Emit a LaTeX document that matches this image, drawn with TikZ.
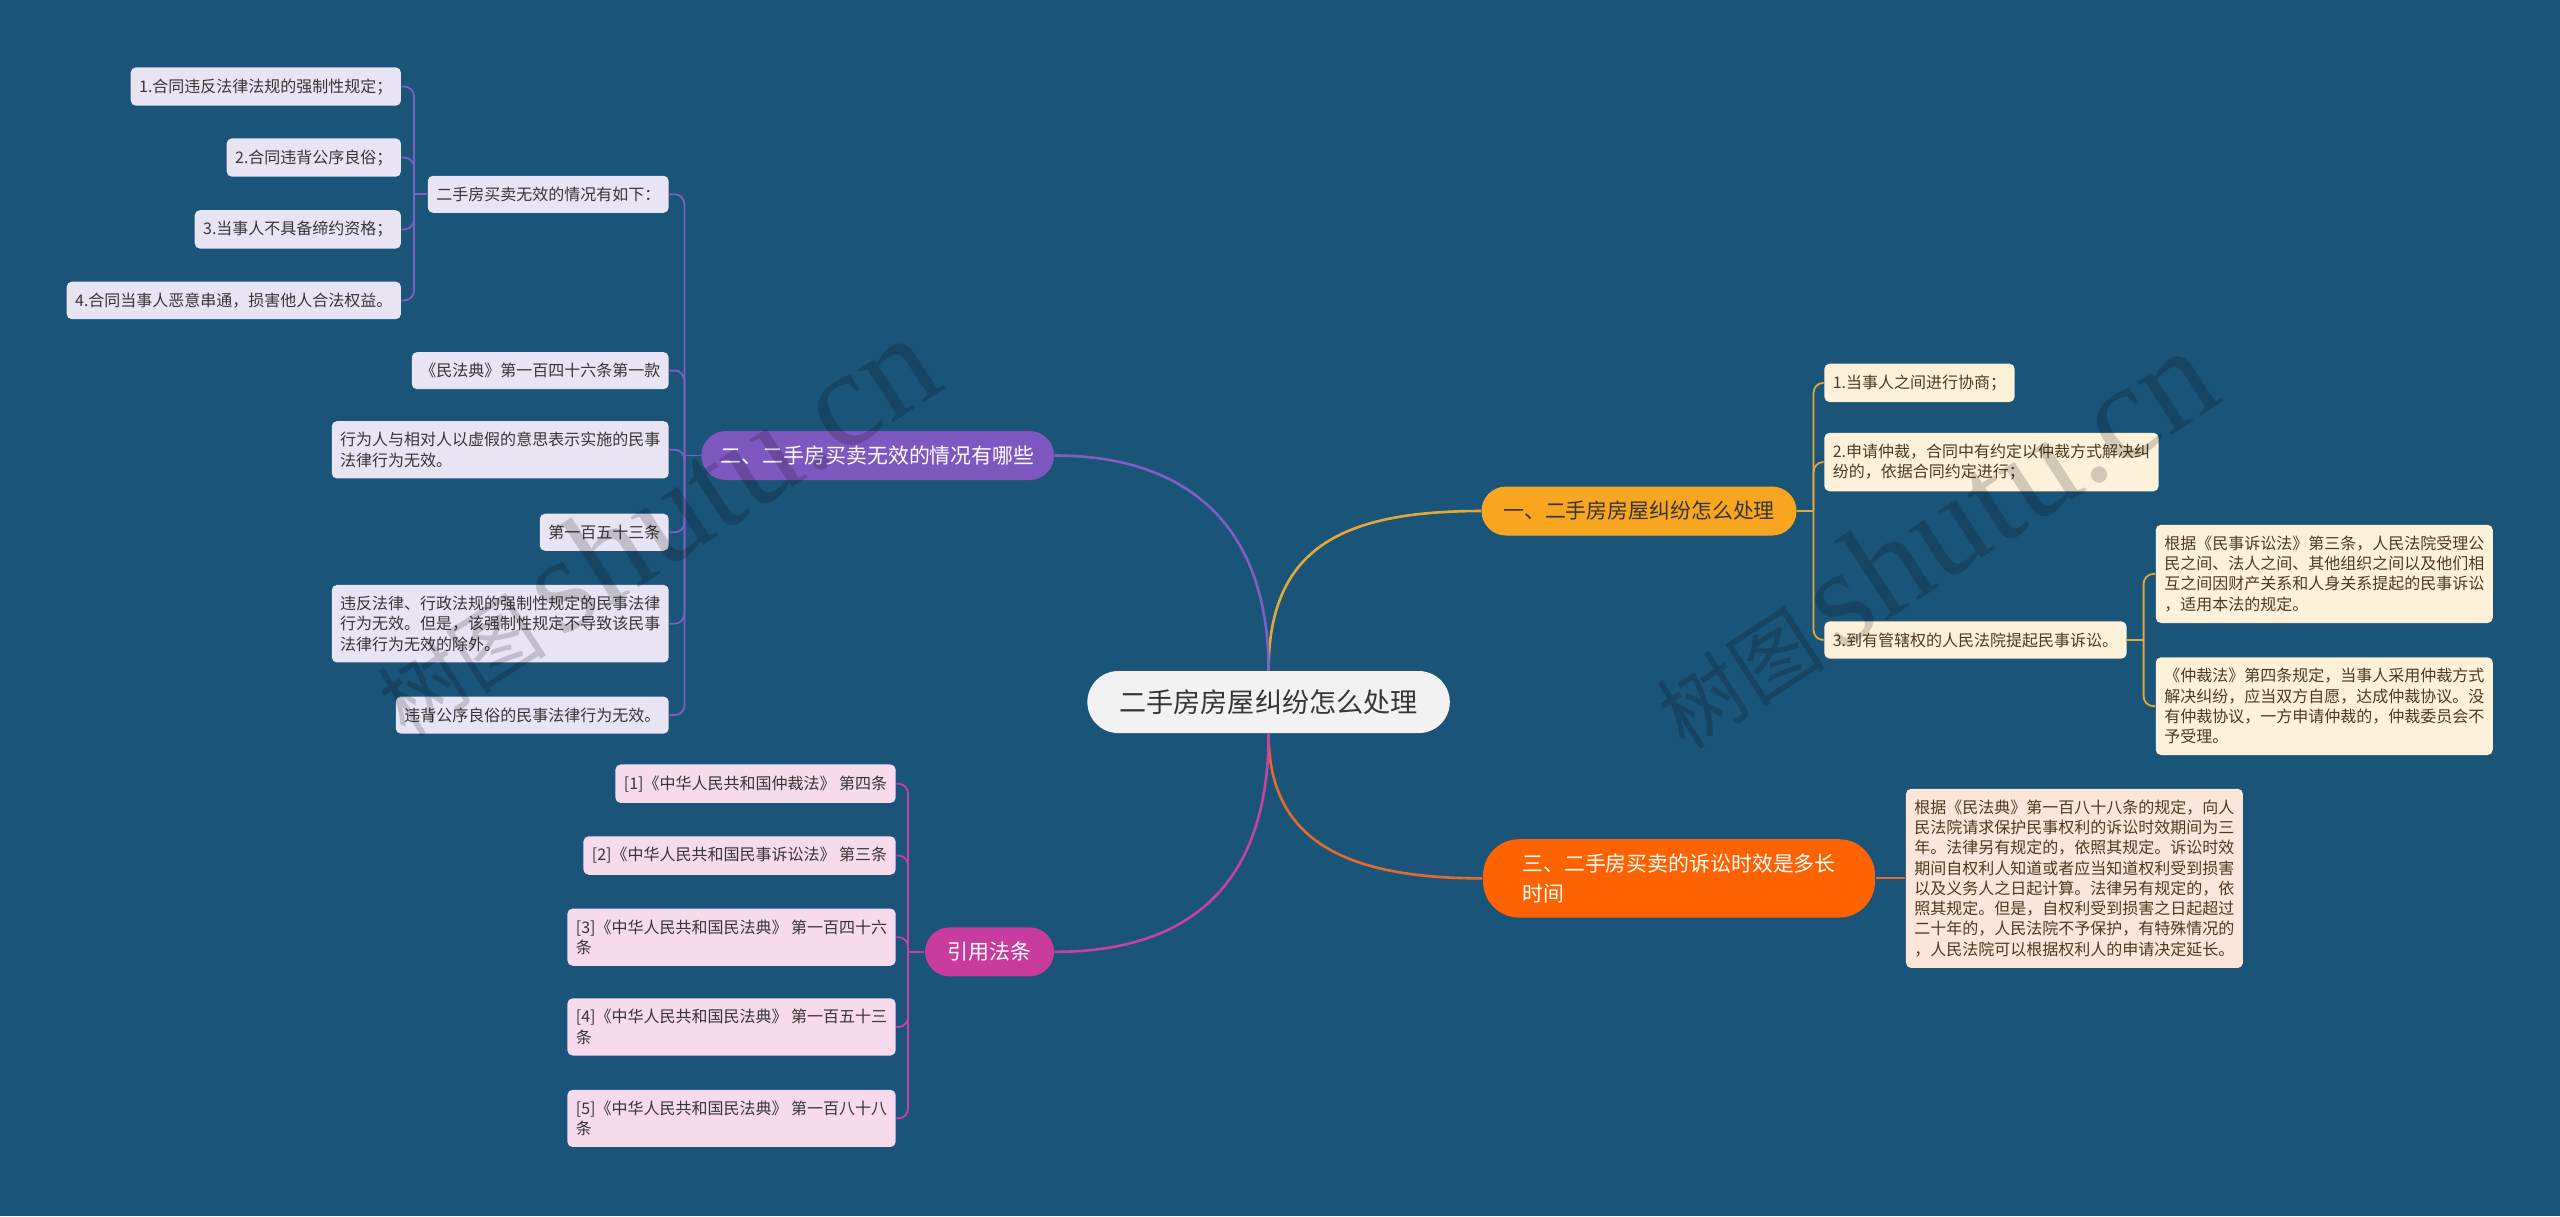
\documentclass[tikz,border=0pt]{standalone}
\usepackage{fontspec}
\setmainfont{Noto Sans CJK SC}
\newfontfamily\wmserif{Liberation Serif}
\definecolor{bgblue}{HTML}{1A5478}
\definecolor{rootfill}{HTML}{F2F2F2}
\definecolor{onefill}{HTML}{F8A51F}
\definecolor{oneline}{HTML}{E2A83C}
\definecolor{oneleaf}{HTML}{FEF1DA}
\definecolor{onetext}{HTML}{4E3B1E}
\definecolor{twofill}{HTML}{7E58C0}
\definecolor{twoline}{HTML}{7D60C2}
\definecolor{twoleaf}{HTML}{E9E4F3}
\definecolor{threefill}{HTML}{FF6200}
\definecolor{threeline}{HTML}{E26A2E}
\definecolor{threeleaf}{HTML}{FDE5D9}
\definecolor{fourfill}{HTML}{C83C9E}
\definecolor{fourline}{HTML}{C6449F}
\definecolor{fourleaf}{HTML}{F7DAEC}
\definecolor{darktext}{HTML}{363636}
\tikzset{
  rootnode/.style={fill=rootfill, text=darktext, rounded corners=9.5pt, minimum width=111pt,
    minimum height=19pt, font=\fontsize{8.3}{10}\selectfont},
  branch/.style={rounded corners=7.5pt, minimum height=15pt, inner xsep=6pt,
    font=\fontsize{6.4}{9}\selectfont},
  leaf/.style={rounded corners=1.6pt, inner xsep=2.6pt, inner ysep=3.4pt, align=left,
    font=\fontsize{4.9}{6.2}\selectfont},
  leafone/.style={leaf, fill=oneleaf, text=onetext},
  leaftwo/.style={leaf, fill=twoleaf, text=darktext},
  leafthree/.style={leaf, fill=threeleaf, text=onetext},
  leaffour/.style={leaf, fill=fourleaf, text=darktext},
  trunk/.style={line width=0.8pt},
  twig/.style={line width=0.55pt, rounded corners=3pt},
  watermark/.style={text=black, text opacity=0.17, inner sep=0pt}
}
\begin{document}
\begin{tikzpicture}[x=0.5pt, y=-0.5pt]
    \fill[bgblue] (0,0) rectangle (1568,745);
    \useasboundingbox (0,0) rectangle (1568,745);
    % centre and main branches
    \node[rootnode] (root) at (777,430) {二手房房屋纠纷怎么处理};
    \node[branch, fill=onefill, text=darktext, minimum width=96.5pt, anchor=west] (one) at (907,313) {一、二手房房屋纠纷怎么处理};
    \node[branch, fill=twofill, text=white, minimum width=108pt, anchor=east] (two) at (646,279) {二、二手房买卖无效的情况有哪些};
    \node[branch, fill=threefill, text=white, minimum width=120pt, minimum height=24pt, rounded corners=11pt, align=left, anchor=west] (three) at (908,538) {三、二手房买卖的诉讼时效是多长\\时间};
    \node[branch, fill=fourfill, text=white, minimum width=39.5pt, anchor=east] (four) at (646,583) {引用法条};
    \draw[trunk, oneline] (root.north) .. controls +(0,-75) and +(-85,0) .. (one.west);
    \draw[trunk, twoline] (root.north) .. controls +(0,-85) and +(85,0) .. (two.east);
    \draw[trunk, threeline] (root.south) .. controls +(0,65) and +(-85,0) .. (three.west);
    \draw[trunk, fourline] (root.south) .. controls +(0,90) and +(85,0) .. (four.east);
    % branch one
    \node[leafone, anchor=west] (one-a) at (1117,234.5) {1.当事人之间进行协商；};
    \node[leafone, anchor=west] (one-b) at (1117,283) {2.申请仲裁，合同中有约定以仲裁方式解决纠\\纷的，依据合同约定进行；};
    \node[leafone, anchor=west] (one-c) at (1117,392) {3.到有管辖权的人民法院提起民事诉讼。};
    \node[leafone, anchor=west] (one-c1) at (1320,351.5) {根据《民事诉讼法》第三条，人民法院受理公\\民之间、法人之间、其他组织之间以及他们相\\互之间因财产关系和人身关系提起的民事诉讼\\，适用本法的规定。};
    \node[leafone, anchor=west] (one-c2) at (1320,432.5) {《仲裁法》第四条规定，当事人采用仲裁方式\\解决纠纷，应当双方自愿，达成仲裁协议。没\\有仲裁协议，一方申请仲裁的，仲裁委员会不\\予受理。};
    \draw[twig, oneline] (one.east) -- ++(10,0) coordinate (one-j);
    \foreach \leafname in {one-a,one-b,one-c}
        \draw[twig, oneline] (one-j) |- (\leafname.west);
    \draw[twig, oneline] (one-c.east) -- ++(10,0) coordinate (one-cj);
    \foreach \leafname in {one-c1,one-c2}
        \draw[twig, oneline] (one-cj) |- (\leafname.west);
    % branch three
    \node[leafthree, anchor=west] (three-a) at (1167,538) {根据《民法典》第一百八十八条的规定，向人\\民法院请求保护民事权利的诉讼时效期间为三\\年。法律另有规定的，依照其规定。诉讼时效\\期间自权利人知道或者应当知道权利受到损害\\以及义务人之日起计算。法律另有规定的，依\\照其规定。但是，自权利受到损害之日起超过\\二十年的，人民法院不予保护，有特殊情况的\\，人民法院可以根据权利人的申请决定延长。};
    \draw[twig, threeline] (three.east) -- (three-a.west);
    % branch two
    \node[leaftwo, anchor=east] (two-a) at (410,119) {二手房买卖无效的情况有如下：};
    \node[leaftwo, anchor=east] (two-a1) at (246,53) {1.合同违反法律法规的强制性规定；};
    \node[leaftwo, anchor=east] (two-a2) at (246,96.5) {2.合同违背公序良俗；};
    \node[leaftwo, anchor=east] (two-a3) at (246,140.5) {3.当事人不具备缔约资格；};
    \node[leaftwo, anchor=east] (two-a4) at (246,184) {4.合同当事人恶意串通，损害他人合法权益。};
    \node[leaftwo, anchor=east] (two-b) at (410,227) {《民法典》第一百四十六条第一款};
    \node[leaftwo, anchor=east] (two-c) at (410,275.5) {行为人与相对人以虚假的意思表示实施的民事\\法律行为无效。};
    \node[leaftwo, anchor=east] (two-d) at (410,326) {第一百五十三条};
    \node[leaftwo, anchor=east] (two-e) at (410,382) {违反法律、行政法规的强制性规定的民事法律\\行为无效。但是，该强制性规定不导致该民事\\法律行为无效的除外。};
    \node[leaftwo, anchor=east] (two-f) at (410,438) {违背公序良俗的民事法律行为无效。};
    \draw[twig, twoline] (two.west) -- ++(-10,0) coordinate (two-j);
    \foreach \leafname in {two-a,two-b,two-c,two-d,two-e,two-f}
        \draw[twig, twoline] (two-j) |- (\leafname.east);
    \draw[twig, twoline] (two-a.west) -- ++(-8,0) coordinate (two-aj);
    \foreach \leafname in {two-a1,two-a2,two-a3,two-a4}
        \draw[twig, twoline] (two-aj) |- (\leafname.east);
    % cited articles
    \node[leaffour, anchor=east] (four-a) at (549,480) {[1]《中华人民共和国仲裁法》 第四条};
    \node[leaffour, anchor=east] (four-b) at (549,524) {[2]《中华人民共和国民事诉讼法》 第三条};
    \node[leaffour, anchor=east] (four-c) at (549,574) {[3]《中华人民共和国民法典》 第一百四十六\\条};
    \node[leaffour, anchor=east] (four-d) at (549,629) {[4]《中华人民共和国民法典》 第一百五十三\\条};
    \node[leaffour, anchor=east] (four-e) at (549,685) {[5]《中华人民共和国民法典》 第一百八十八\\条};
    \draw[twig, fourline] (four.west) -- ++(-10,0) coordinate (four-j);
    \foreach \leafname in {four-a,four-b,four-c,four-d,four-e}
        \draw[twig, fourline] (four-j) |- (\leafname.east);
    % watermarks
    \node[watermark, rotate=33] (mark-left) at (400,322) {\fontsize{26}{26}\selectfont 树图\,{\wmserif\fontsize{42}{42}\selectfont shutu.cn}};
    \node[watermark, rotate=33] (mark-right) at (1183,330) {\fontsize{26}{26}\selectfont 树图\,{\wmserif\fontsize{42}{42}\selectfont shutu.cn}};
\end{tikzpicture}
\end{document}
